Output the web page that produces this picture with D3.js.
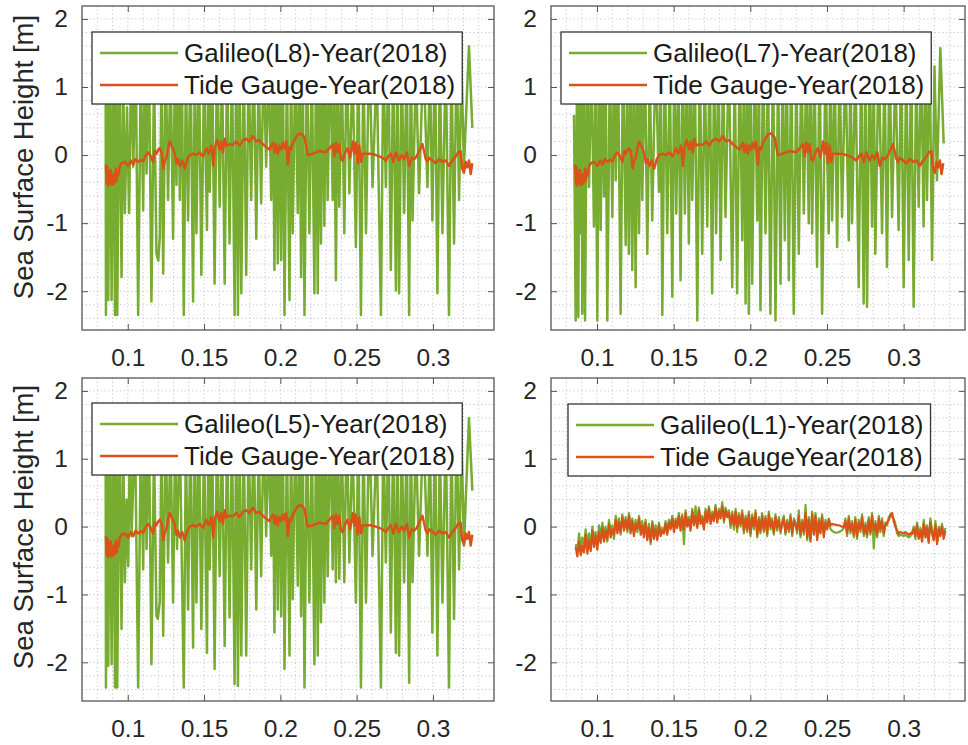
<!DOCTYPE html>
<html>
<head>
<meta charset="utf-8">
<script src="https://cdn.jsdelivr.net/npm/d3@7"></script>
<style>
  body { margin: 0; background: #fff; }
  svg { display: block; font-family: "Liberation Sans", Arial, sans-serif; }
</style>
</head>
<body>
<svg id="chart" width="968" height="745"></svg>
<script>
// ---- DATA ---- //

// Tide gauge record, shared by the L8 / L7 / L5 panels: [time, SSH]
const tideGauge = [
  [0.0857,-0.14],[0.0862,-0.42],[0.0867,-0.18],[0.0872,-0.45],[0.0877,-0.25],[0.0883,-0.40],[0.0889,-0.22],[0.0894,-0.44],
  [0.0900,-0.30],[0.0905,-0.43],[0.0911,-0.28],[0.0916,-0.40],[0.0922,-0.20],[0.0927,-0.38],[0.0933,-0.24],[0.0938,-0.30],
  [0.0948,-0.16],[0.0960,-0.12],[0.0981,-0.10],[0.1003,-0.16],[0.1020,-0.08],[0.1036,-0.14],[0.1050,-0.06],[0.1068,-0.10],
  [0.1085,-0.07],[0.1101,-0.09],[0.1118,0.00],[0.1134,0.04],[0.1150,-0.02],[0.1166,-0.10],[0.1177,0.06],[0.1188,0.02],
  [0.1200,0.08],[0.1210,0.10],[0.1222,0.04],[0.1232,-0.20],[0.1243,-0.08],[0.1253,-0.04],[0.1265,0.12],[0.1275,0.20],
  [0.1286,0.14],[0.1297,0.10],[0.1308,0.02],[0.1319,-0.12],[0.1330,-0.06],[0.1341,-0.16],[0.1357,-0.08],[0.1373,-0.20],
  [0.1390,-0.06],[0.1406,0.00],[0.1428,0.02],[0.1450,0.00],[0.1471,0.04],[0.1493,-0.02],[0.1515,0.10],[0.1530,0.02],
  [0.1548,0.14],[0.1560,-0.16],[0.1569,0.10],[0.1585,0.22],[0.1602,0.08],[0.1613,0.20],[0.1624,0.04],[0.1635,0.24],
  [0.1646,0.14],[0.1668,0.16],[0.1689,0.15],[0.1711,0.20],[0.1733,0.14],[0.1755,0.22],[0.1776,0.24],[0.1798,0.20],
  [0.1820,0.28],[0.1842,0.20],[0.1863,0.22],[0.1885,0.16],[0.1907,0.12],[0.1929,0.08],[0.1940,0.14],[0.1951,0.18],
  [0.1962,0.04],[0.1972,0.16],[0.1983,0.02],[0.1994,0.14],[0.2005,0.08],[0.2016,0.18],[0.2027,0.10],[0.2038,0.20],
  [0.2049,-0.14],[0.2060,0.12],[0.2070,0.08],[0.2081,0.18],[0.2098,0.24],[0.2114,0.30],[0.2136,0.32],[0.2158,0.26],
  [0.2179,0.00],[0.2212,0.02],[0.2256,0.06],[0.2299,0.04],[0.2321,0.10],[0.2343,0.16],[0.2354,-0.02],[0.2364,0.18],
  [0.2375,0.04],[0.2386,0.16],[0.2397,-0.06],[0.2408,-0.08],[0.2425,0.04],[0.2441,0.10],[0.2457,-0.04],[0.2474,0.20],
  [0.2484,0.02],[0.2495,0.18],[0.2506,-0.12],[0.2517,0.14],[0.2528,-0.10],[0.2539,0.02],[0.2561,0.02],[0.2593,0.02],
  [0.2626,0.00],[0.2648,-0.02],[0.2670,-0.04],[0.2691,-0.08],[0.2708,-0.02],[0.2724,0.02],[0.2740,-0.10],[0.2757,0.04],
  [0.2778,-0.08],[0.2795,0.00],[0.2811,-0.06],[0.2828,0.04],[0.2844,-0.16],[0.2861,-0.04],[0.2877,-0.06],[0.2893,-0.02],
  [0.2909,0.06],[0.2931,0.16],[0.2953,-0.06],[0.2964,-0.10],[0.2975,-0.04],[0.2997,-0.08],[0.3018,-0.12],[0.3040,-0.06],
  [0.3062,-0.10],[0.3084,-0.08],[0.3105,-0.16],[0.3127,-0.08],[0.3149,-0.02],[0.3165,0.04],[0.3181,0.06],[0.3192,-0.20],
  [0.3203,-0.26],[0.3214,-0.10],[0.3225,-0.18],[0.3236,-0.08],[0.3247,-0.28],[0.3258,-0.12]
];

// Galileo L8 (top left)
const galileoL8 = [
  [0.0855,1.2],[0.0857,-2.35],[0.0865,1.5],[0.0872,-2.13],[0.0883,1.4],[0.0894,-2.13],[0.0905,1.6],[0.0916,-2.35],
  [0.0924,1.3],[0.0931,-2.35],[0.0945,1.5],[0.0959,-1.79],[0.0970,1.2],[0.0981,-0.85],[0.0995,0.7],[0.1009,-0.85],
  [0.1022,1.4],[0.1036,-0.17],[0.1052,1.5],[0.1068,-2.35],[0.1085,1.3],[0.1101,-0.81],[0.1112,1.6],[0.1123,-0.27],
  [0.1139,1.4],[0.1155,-2.15],[0.1172,1.2],[0.1188,-1.45],[0.1200,-1.55],[0.1210,-1.2],[0.1221,1.3],[0.1232,-1.74],
  [0.1248,1.5],[0.1264,-0.66],[0.1280,1.4],[0.1297,-1.23],[0.1308,1.2],[0.1319,-0.44],[0.1330,1.5],[0.1341,-0.66],
  [0.1354,1.6],[0.1367,-2.35],[0.1381,1.3],[0.1395,-0.96],[0.1411,1.5],[0.1428,-2.15],[0.1439,1.4],[0.1450,-1.15],
  [0.1466,1.6],[0.1482,-1.76],[0.1500,1.3],[0.1519,-1.10],[0.1528,1.5],[0.1537,-0.54],[0.1553,1.4],[0.1569,-1.89],
  [0.1585,1.6],[0.1602,-0.76],[0.1618,1.3],[0.1635,-1.89],[0.1651,1.5],[0.1667,-1.30],[0.1683,1.4],[0.1700,-2.35],
  [0.1711,1.6],[0.1722,-2.35],[0.1733,1.3],[0.1744,-2.03],[0.1760,1.5],[0.1776,-1.76],[0.1792,1.4],[0.1809,-0.66],
  [0.1825,1.6],[0.1842,-1.23],[0.1858,1.3],[0.1874,-0.71],[0.1890,1.5],[0.1907,-0.17],[0.1923,1.4],[0.1940,-0.66],
  [0.1950,1.6],[0.1961,-1.69],[0.1972,1.5],[0.1983,-1.59],[0.1994,1.4],[0.2005,-1.54],[0.2016,1.6],[0.2027,-2.35],
  [0.2043,1.3],[0.2060,-2.13],[0.2070,1.5],[0.2081,-1.15],[0.2098,1.4],[0.2114,-0.85],[0.2125,1.6],[0.2136,-1.79],
  [0.2147,1.3],[0.2158,-2.35],[0.2174,1.5],[0.2190,-1.15],[0.2206,1.4],[0.2223,-2.03],[0.2234,1.6],[0.2245,-2.03],
  [0.2255,1.3],[0.2266,-1.30],[0.2277,1.5],[0.2288,-1.04],[0.2299,1.4],[0.2310,-0.66],[0.2326,1.6],[0.2343,-0.66],
  [0.2353,1.3],[0.2364,-1.84],[0.2375,1.5],[0.2386,-0.76],[0.2402,1.4],[0.2419,-1.15],[0.2435,1.6],[0.2452,-0.56],
  [0.2473,1.3],[0.2495,-1.35],[0.2511,1.5],[0.2528,-2.35],[0.2544,1.4],[0.2561,-1.15],[0.2582,1.6],[0.2604,-0.47],
  [0.2631,1.3],[0.2659,-2.35],[0.2675,1.5],[0.2691,-0.47],[0.2708,1.4],[0.2724,-1.69],[0.2740,1.6],[0.2757,-1.99],
  [0.2767,1.3],[0.2778,-2.03],[0.2795,1.5],[0.2811,-0.85],[0.2828,1.4],[0.2844,-2.35],[0.2855,1.6],[0.2866,-0.96],
  [0.2888,1.3],[0.2909,-0.56],[0.2937,1.5],[0.2964,-0.47],[0.2980,1.4],[0.2996,-0.96],[0.3013,1.6],[0.3029,-2.03],
  [0.3045,1.3],[0.3062,-1.15],[0.3084,1.5],[0.3105,-2.35],[0.3121,1.4],[0.3138,-1.30],[0.3155,1.6],[0.3171,-0.66],
  [0.3187,1.3],[0.3203,-0.17],[0.3236,1.6],[0.3258,0.4]
];

// Galileo L7 (top right)
const galileoL7 = [
  [0.0850,0.59],[0.0861,-2.43],[0.0870,1.4],[0.0878,-2.38],[0.0886,1.2],[0.0894,-1.15],[0.0899,1.5],[0.0904,-2.33],
  [0.0913,1.3],[0.0922,-2.43],[0.0935,1.6],[0.0948,-0.47],[0.0964,1.4],[0.0980,-1.05],[0.0991,1.2],[0.1002,-2.43],
  [0.1013,1.5],[0.1024,-1.10],[0.1035,1.3],[0.1046,-0.61],[0.1056,1.6],[0.1067,-2.43],[0.1084,1.4],[0.1100,-0.91],
  [0.1111,1.5],[0.1122,-0.37],[0.1138,1.3],[0.1154,-2.33],[0.1170,1.6],[0.1187,-1.32],[0.1197,1.2],[0.1208,-1.45],
  [0.1219,1.4],[0.1230,-1.69],[0.1241,1.3],[0.1252,-1.94],[0.1263,1.5],[0.1274,-1.15],[0.1285,1.4],[0.1295,-0.66],
  [0.1312,1.6],[0.1328,-1.45],[0.1344,1.3],[0.1360,-0.96],[0.1382,1.5],[0.1404,-0.54],[0.1415,1.4],[0.1426,-2.35],
  [0.1442,1.6],[0.1458,-1.15],[0.1475,1.3],[0.1491,-2.08],[0.1504,1.5],[0.1517,-0.86],[0.1531,1.4],[0.1545,-1.84],
  [0.1559,1.6],[0.1573,-0.86],[0.1586,1.3],[0.1599,-1.30],[0.1610,1.5],[0.1621,-0.66],[0.1638,1.4],[0.1654,-2.43],
  [0.1670,1.6],[0.1686,-1.45],[0.1703,1.3],[0.1719,-1.05],[0.1735,1.5],[0.1751,-2.03],[0.1764,1.4],[0.1777,-1.15],
  [0.1792,1.6],[0.1806,-1.54],[0.1822,1.3],[0.1838,-0.91],[0.1860,1.5],[0.1882,-1.94],[0.1898,1.4],[0.1914,-2.03],
  [0.1931,1.6],[0.1947,-1.25],[0.1958,1.3],[0.1969,-2.18],[0.1980,1.5],[0.1990,-2.33],[0.2001,1.4],[0.2012,-1.89],
  [0.2029,1.6],[0.2045,-0.96],[0.2056,1.3],[0.2066,-2.28],[0.2083,1.5],[0.2099,-1.15],[0.2115,1.4],[0.2131,-2.33],
  [0.2148,1.6],[0.2164,-2.43],[0.2181,1.3],[0.2197,-1.89],[0.2211,1.5],[0.2225,-1.25],[0.2238,1.4],[0.2251,-1.84],
  [0.2267,1.6],[0.2283,-2.33],[0.2300,1.3],[0.2316,-1.45],[0.2333,1.5],[0.2349,-0.86],[0.2365,1.4],[0.2381,-1.00],
  [0.2392,1.6],[0.2403,-1.15],[0.2419,1.3],[0.2435,-1.64],[0.2452,1.5],[0.2468,-2.33],[0.2490,1.4],[0.2511,-1.15],
  [0.2522,1.6],[0.2533,-0.96],[0.2550,1.3],[0.2566,-1.35],[0.2582,1.5],[0.2598,-0.91],[0.2620,1.4],[0.2642,-1.25],
  [0.2653,1.6],[0.2663,-1.00],[0.2685,1.3],[0.2707,-1.94],[0.2723,1.5],[0.2739,-2.18],[0.2750,1.4],[0.2761,-2.23],
  [0.2778,1.6],[0.2794,-1.05],[0.2805,1.3],[0.2815,-1.45],[0.2837,1.5],[0.2859,-1.15],[0.2875,1.4],[0.2891,-1.64],
  [0.2908,1.6],[0.2924,-0.91],[0.2946,1.3],[0.2967,-1.10],[0.2984,1.5],[0.3000,-1.94],[0.3017,1.4],[0.3033,-1.54],
  [0.3049,1.6],[0.3065,-2.23],[0.3082,1.3],[0.3098,-0.76],[0.3114,1.5],[0.3130,-1.05],[0.3141,1.4],[0.3152,-0.66],
  [0.3169,1.6],[0.3185,-1.54],[0.3201,1.3],[0.3217,-0.37],[0.3239,1.57],[0.3261,0.17]
];

// Galileo L5 (bottom left)
const galileoL5 = [
  [0.0855,1.2],[0.0857,-2.37],[0.0865,1.5],[0.0872,-2.05],[0.0883,1.4],[0.0894,-2.03],[0.0905,1.6],[0.0916,-2.37],
  [0.0924,1.3],[0.0931,-2.37],[0.0945,1.5],[0.0959,-1.51],[0.0970,1.2],[0.0981,-0.82],[0.0992,0.4],[0.1003,-0.58],
  [0.1014,1.4],[0.1025,-0.14],[0.1047,1.5],[0.1068,-2.37],[0.1085,1.3],[0.1101,-0.63],[0.1112,1.6],[0.1123,-0.33],
  [0.1139,1.4],[0.1155,-2.03],[0.1172,1.2],[0.1188,-1.32],[0.1197,-1.36],[0.1210,-1.1],[0.1221,1.3],[0.1232,-1.61],
  [0.1248,1.5],[0.1264,-0.53],[0.1280,1.4],[0.1297,-1.12],[0.1310,1.2],[0.1323,-0.33],[0.1340,1.5],[0.1367,-2.37],
  [0.1381,1.3],[0.1395,-1.22],[0.1411,1.5],[0.1428,-1.78],[0.1439,1.4],[0.1450,-1.12],[0.1466,1.6],[0.1482,-1.51],
  [0.1500,1.3],[0.1519,-1.86],[0.1528,1.5],[0.1537,-0.63],[0.1553,1.4],[0.1569,-2.10],[0.1585,1.6],[0.1602,-0.73],
  [0.1618,1.3],[0.1635,-1.76],[0.1651,1.5],[0.1667,-1.34],[0.1683,1.4],[0.1700,-2.32],[0.1711,1.6],[0.1722,-2.35],
  [0.1733,1.3],[0.1744,-1.90],[0.1760,1.5],[0.1776,-1.90],[0.1792,1.4],[0.1809,-0.63],[0.1825,1.6],[0.1842,-1.22],
  [0.1858,1.3],[0.1874,-0.73],[0.1890,1.5],[0.1907,-0.14],[0.1923,1.4],[0.1940,-0.43],[0.1950,1.6],[0.1961,-1.56],
  [0.1972,1.5],[0.1983,-1.22],[0.1994,1.4],[0.2005,-1.32],[0.2016,1.6],[0.2027,-2.10],[0.2043,1.3],[0.2060,-1.90],
  [0.2070,1.5],[0.2081,-1.07],[0.2098,1.4],[0.2114,-0.87],[0.2125,1.6],[0.2136,-1.32],[0.2147,1.3],[0.2158,-2.37],
  [0.2174,1.5],[0.2190,-1.12],[0.2206,1.4],[0.2223,-2.03],[0.2234,1.6],[0.2245,-1.90],[0.2255,1.3],[0.2266,-1.41],
  [0.2277,1.5],[0.2288,-1.12],[0.2299,1.4],[0.2310,-0.73],[0.2326,1.6],[0.2343,-0.63],[0.2353,1.3],[0.2364,-0.82],
  [0.2375,1.5],[0.2386,-0.77],[0.2402,1.4],[0.2419,-0.82],[0.2435,1.6],[0.2452,-0.53],[0.2473,1.3],[0.2495,-1.12],
  [0.2511,1.5],[0.2528,-2.37],[0.2544,1.4],[0.2561,-1.12],[0.2582,1.6],[0.2604,-0.43],[0.2631,1.3],[0.2659,-2.37],
  [0.2675,1.5],[0.2691,-0.53],[0.2708,1.4],[0.2724,-1.56],[0.2740,1.6],[0.2757,-1.86],[0.2767,1.3],[0.2778,-1.90],
  [0.2795,1.5],[0.2811,-0.82],[0.2828,1.4],[0.2844,-2.30],[0.2855,1.6],[0.2866,-0.82],[0.2888,1.3],[0.2909,-0.43],
  [0.2937,1.5],[0.2964,-0.43],[0.2980,1.4],[0.2996,-1.56],[0.3013,1.6],[0.3029,-1.90],[0.3045,1.3],[0.3062,-1.12],
  [0.3084,1.5],[0.3105,-2.37],[0.3121,1.4],[0.3138,-1.36],[0.3155,1.6],[0.3171,-0.63],[0.3187,1.3],[0.3203,-0.28],
  [0.3236,1.60],[0.3258,0.53]
];

// L1 panel (bottom right): common time base, then Galileo L1 and tide gauge
const l1Time = [
  0.0861,0.0872,0.0883,0.0894,0.0904,0.0915,0.0926,0.0937,0.0948,0.0959,0.0970,0.0980,0.0991,0.1002,0.1013,0.1024,
  0.1035,0.1046,0.1056,0.1067,0.1078,0.1089,0.1100,0.1111,0.1122,0.1133,0.1143,0.1154,0.1165,0.1176,0.1187,0.1198,
  0.1209,0.1219,0.1230,0.1241,0.1252,0.1263,0.1274,0.1285,0.1295,0.1306,0.1317,0.1328,0.1339,0.1350,0.1361,0.1371,
  0.1382,0.1393,0.1404,0.1415,0.1426,0.1437,0.1447,0.1458,0.1469,0.1480,0.1491,0.1502,0.1513,0.1523,0.1534,0.1545,
  0.1556,0.1567,0.1578,0.1589,0.1599,0.1610,0.1621,0.1632,0.1643,0.1654,0.1665,0.1675,0.1686,0.1697,0.1708,0.1719,
  0.1730,0.1741,0.1752,0.1762,0.1773,0.1784,0.1795,0.1806,0.1817,0.1828,0.1838,0.1849,0.1860,0.1871,0.1882,0.1893,
  0.1904,0.1914,0.1925,0.1936,0.1947,0.1958,0.1969,0.1980,0.1990,0.2001,0.2012,0.2023,0.2034,0.2045,0.2056,0.2066,
  0.2077,0.2088,0.2099,0.2110,0.2121,0.2132,0.2142,0.2153,0.2164,0.2175,0.2186,0.2197,0.2208,0.2218,0.2229,0.2240,
  0.2251,0.2262,0.2273,0.2284,0.2295,0.2305,0.2316,0.2327,0.2338,0.2349,0.2360,0.2371,0.2381,0.2392,0.2403,0.2414,
  0.2425,0.2436,0.2447,0.2457,0.2468,0.2479,0.2490,0.2501,0.2512,0.2523,0.2533,0.2544,0.2555,0.2566,0.2577,0.2588,
  0.2599,0.2609,0.2620,0.2631,0.2642,0.2653,0.2664,0.2675,0.2685,0.2696,0.2707,0.2718,0.2729,0.2740,0.2751,0.2761,
  0.2772,0.2783,0.2794,0.2805,0.2816,0.2827,0.2838,0.2848,0.2859,0.2870,0.2881,0.2892,0.2903,0.2914,0.2924,0.2935,
  0.2946,0.2957,0.2968,0.2979,0.2990,0.3000,0.3011,0.3022,0.3033,0.3044,0.3055,0.3066,0.3076,0.3087,0.3098,0.3109,
  0.3120,0.3131,0.3142,0.3152,0.3163,0.3174,0.3185,0.3196,0.3207,0.3218,0.3229,0.3239,0.3250,0.3261,0.3272
];
const galileoL1 = [
  -0.26,-0.36,-0.10,-0.30,-0.16,-0.28,-0.04,-0.26,-0.10,-0.30,0.00,-0.20,-0.08,-0.28,0.02,-0.16,
  0.06,-0.14,0.00,-0.22,0.10,-0.08,0.02,-0.18,0.16,-0.04,0.12,-0.12,0.18,-0.02,0.14,-0.08,
  0.20,-0.04,0.12,-0.10,0.10,-0.08,0.16,-0.06,0.08,-0.12,0.10,-0.16,0.04,-0.26,0.08,-0.14,
  0.02,-0.16,0.06,-0.10,-0.02,-0.06,0.08,-0.08,0.10,0.00,0.16,-0.04,0.12,0.02,0.20,-0.02,
  0.18,-0.26,0.24,0.04,0.14,-0.02,0.26,0.06,0.30,0.02,0.28,0.08,0.16,0.00,0.26,0.10,
  0.30,0.08,0.22,0.12,0.32,0.10,0.26,0.16,0.36,0.06,0.28,0.18,0.24,-0.02,0.22,-0.04,
  0.26,-0.08,0.20,0.00,0.24,-0.10,0.16,-0.08,0.22,-0.14,0.18,-0.04,0.24,-0.16,0.14,-0.10,
  0.20,-0.08,0.16,-0.14,0.22,-0.04,0.12,-0.12,0.18,-0.06,0.14,-0.10,0.08,0.16,-0.12,0.10,
  -0.08,0.18,-0.14,0.12,0.06,-0.10,0.24,-0.16,0.10,-0.12,0.32,-0.20,0.14,-0.18,0.22,-0.08,
  0.20,-0.16,0.12,-0.06,0.18,-0.12,0.10,-0.02,0.12,-0.04,-0.06,-0.08,-0.09,-0.09,-0.08,-0.07,
  -0.05,-0.02,0.12,-0.14,0.16,-0.10,0.08,-0.16,0.14,-0.18,0.10,-0.08,0.18,-0.14,0.06,-0.16,
  0.14,-0.12,0.20,-0.32,0.08,-0.16,0.16,-0.08,0.12,-0.14,0.06,0.02,0.14,0.14,0.16,0.12,
  0.04,-0.10,-0.14,-0.12,-0.13,-0.14,-0.12,-0.14,-0.16,-0.14,-0.08,0.00,-0.18,0.06,-0.14,-0.02,
  -0.18,0.10,-0.12,0.02,-0.20,0.12,-0.06,-0.16,0.08,-0.22,0.00,-0.10,0.04,-0.14,-0.02
];
const tideL1 = [
  -0.30,-0.44,-0.22,-0.42,-0.28,-0.38,-0.12,-0.40,-0.20,-0.36,-0.06,-0.30,-0.14,-0.34,-0.08,-0.24,
  -0.02,-0.22,-0.06,-0.18,0.04,-0.16,-0.04,-0.12,0.10,-0.10,0.06,-0.08,0.14,-0.06,0.10,-0.04,
  0.16,-0.10,0.08,-0.14,0.04,-0.04,0.12,-0.12,0.02,-0.16,0.06,-0.20,-0.02,-0.22,0.04,-0.18,
  -0.04,-0.20,0.02,-0.14,-0.06,-0.10,0.04,-0.12,0.06,-0.04,0.12,-0.08,0.08,-0.02,0.16,-0.06,
  0.14,-0.04,0.20,0.00,0.10,-0.06,0.22,0.02,0.16,-0.02,0.24,0.04,0.12,-0.04,0.22,0.06,
  0.26,0.04,0.18,0.08,0.28,0.06,0.22,0.12,0.30,0.10,0.24,0.14,0.20,0.04,0.18,0.02,
  0.22,-0.02,0.16,0.04,0.20,-0.06,0.12,-0.04,0.18,-0.10,0.14,0.00,0.20,-0.12,0.10,-0.06,
  0.16,-0.04,0.12,-0.10,0.18,0.00,0.08,-0.08,0.14,-0.02,0.10,-0.06,0.04,0.12,-0.08,0.06,
  -0.04,0.14,-0.10,0.08,0.02,-0.06,0.16,-0.12,0.06,-0.08,0.20,-0.16,0.10,-0.22,0.18,-0.12,
  0.16,-0.20,0.08,-0.10,0.14,-0.16,0.06,-0.04,0.10,0.02,0.04,0.03,0.03,0.02,0.02,0.01,
  0.00,-0.01,0.08,-0.10,0.12,-0.06,0.04,-0.12,0.10,-0.14,0.06,-0.04,0.14,-0.10,0.02,-0.12,
  0.10,-0.08,0.16,-0.06,0.04,-0.12,0.12,-0.04,0.08,-0.10,0.02,0.06,0.10,0.18,0.20,0.08,
  0.00,-0.06,-0.10,-0.08,-0.09,-0.10,-0.08,-0.10,-0.12,-0.10,-0.11,-0.04,-0.14,0.02,-0.18,-0.06,
  -0.22,0.04,-0.16,-0.02,-0.24,0.06,-0.10,-0.20,0.02,-0.26,-0.04,-0.14,0.00,-0.18,-0.06
];

const xTicks = [0.1, 0.15, 0.2, 0.25, 0.3];
const yTicks = [-2, -1, 0, 1, 2];

// ---- LAYOUT ---- //

const svg = d3.select("#chart");
const green = "#77AC30";
const orange = "#D95319";

const xDomain = [0.07, 0.34];
const yDomain = [-2.57, 2.19];

const panels = [
  { box: { L: 82, T: 6, R: 494, B: 330 }, yLabelY: 157, lw: 2.5,
    galileo: galileoL8, tide: tideGauge,
    labels: ["Galileo(L8)-Year(2018)", "Tide Gauge-Year(2018)"], legend: { x: 92, y: 32 } },
  { box: { L: 551, T: 6, R: 965, B: 330 }, lw: 2.5,
    galileo: galileoL7, tide: tideGauge,
    labels: ["Galileo(L7)-Year(2018)", "Tide Gauge-Year(2018)"], legend: { x: 561, y: 32 } },
  { box: { L: 82, T: 378, R: 494, B: 701 }, yLabelY: 527, lw: 2.5,
    galileo: galileoL5, tide: tideGauge,
    labels: ["Galileo(L5)-Year(2018)", "Tide Gauge-Year(2018)"], legend: { x: 92, y: 403 } },
  { box: { L: 551, T: 378, R: 965, B: 701 }, lw: 2.2,
    galileo: l1Time.map((t, i) => [t, galileoL1[i]]), tide: l1Time.map((t, i) => [t, tideL1[i]]),
    labels: ["Galileo(L1)-Year(2018)", "Tide GaugeYear(2018)"], legend: { x: 568, y: 404 } },
];

function drawPanel(p, idx) {
    const b = p.box;
    const xScale = d3.scaleLinear().domain(xDomain).range([b.L, b.R]);
    const yScale = d3.scaleLinear().domain(yDomain).range([b.B, b.T]);
    const g = svg.append("g");

    // clip
    const clipId = "clip" + idx;
    g.append("clipPath").attr("id", clipId)
        .append("rect")
        .attr("x", b.L).attr("y", b.T)
        .attr("width", b.R - b.L).attr("height", b.B - b.T);

    // --- grid (minor + major, dotted) --- //
    const xGrid = d3.range(0.08, 0.3401, 0.01).filter(v => v < xDomain[1] - 0.001);
    const yGrid = d3.range(-2.4, 2.19, 0.2);
    g.append("g").selectAll("line.gx").data(xGrid).enter()
        .append("line")
        .attr("x1", d => xScale(d)).attr("x2", d => xScale(d))
        .attr("y1", b.T).attr("y2", b.B)
        .attr("stroke", "#b8b8b8").attr("stroke-width", 0.8)
        .attr("stroke-dasharray", "1.2,2.6");
    g.append("g").selectAll("line.gy").data(yGrid).enter()
        .append("line")
        .attr("y1", d => yScale(d)).attr("y2", d => yScale(d))
        .attr("x1", b.L).attr("x2", b.R)
        .attr("stroke", "#b8b8b8").attr("stroke-width", 0.8)
        .attr("stroke-dasharray", "1.2,2.6");

    // --- lines --- //
    const line = d3.line()
        .x(d => xScale(d[0]))
        .y(d => yScale(d[1]));

    const plot = g.append("g").attr("clip-path", `url(#${clipId})`);
    plot.append("path")
        .attr("d", line(p.galileo))
        .attr("fill", "none")
        .attr("stroke", green)
        .attr("stroke-width", p.lw)
        .attr("stroke-linejoin", "round");
    plot.append("path")
        .attr("d", line(p.tide))
        .attr("fill", "none")
        .attr("stroke", orange)
        .attr("stroke-width", p.lw)
        .attr("stroke-linejoin", "round");

    // --- axes (ticks inside, box on) --- //
    const axisColor = "#555";
    const tl = 6;
    const xAxisB = d3.axisBottom(xScale).tickValues(xTicks).tickSize(-tl).tickPadding(14).tickFormat(d => String(d));
    const xAxisT = d3.axisTop(xScale).tickValues(xTicks).tickSize(-tl).tickFormat("");
    const yAxisL = d3.axisLeft(yScale).tickValues(yTicks).tickSize(-tl).tickPadding(14).tickFormat(d => String(d)); // plain hyphen like matlab
    const yAxisR = d3.axisRight(yScale).tickValues(yTicks).tickSize(-tl).tickFormat("");

    const axes = [
        g.append("g").attr("transform", `translate(0,${b.B})`).call(xAxisB),
        g.append("g").attr("transform", `translate(0,${b.T})`).call(xAxisT),
        g.append("g").attr("transform", `translate(${b.L},0)`).call(yAxisL),
        g.append("g").attr("transform", `translate(${b.R},0)`).call(yAxisR),
    ];
    axes.forEach(a => {
        a.select(".domain").remove();
        a.selectAll(".tick line").attr("stroke", axisColor).attr("stroke-width", 1);
        a.selectAll(".tick text")
            .attr("fill", "#262626")
            .style("font-family", "'Liberation Sans', Arial, sans-serif")
            .style("font-size", "24.5px");
    });
    axes[0].selectAll(".tick text").attr("dy", "0.9em");

    g.append("rect")
        .attr("x", b.L).attr("y", b.T)
        .attr("width", b.R - b.L).attr("height", b.B - b.T)
        .attr("fill", "none").attr("stroke", axisColor).attr("stroke-width", 1.3);

    // --- y label --- //
    if (p.yLabelY) {
        svg.append("text")
            .attr("transform", `translate(33,${p.yLabelY}) rotate(-90)`)
            .attr("text-anchor", "middle")
            .attr("fill", "#262626")
            .style("font-size", "27.5px")
            .text("Sea Surface Height [m]");
    }

    // --- legend --- //
    const lg = g.append("g").attr("transform", `translate(${p.legend.x},${p.legend.y})`);
    const rows = [21, 53];
    const lbox = lg.append("rect")
        .attr("x", 0).attr("y", 0).attr("height", 72)
        .attr("fill", "#fff").attr("stroke", "#333").attr("stroke-width", 1.3);
    let maxW = 0;
    [green, orange].forEach((c, i) => {
        lg.append("line")
            .attr("x1", 8).attr("x2", 86)
            .attr("y1", rows[i]).attr("y2", rows[i])
            .attr("stroke", c).attr("stroke-width", 2.4);
        const t = lg.append("text")
            .attr("x", 92).attr("y", rows[i]).attr("dy", "0.36em")
            .attr("fill", "#1a1a1a")
            .style("font-size", "26px")
            .text(p.labels[i]);
        maxW = Math.max(maxW, t.node().getComputedTextLength());
    });
    lbox.attr("width", 92 + maxW + 7);
}

panels.forEach(drawPanel);
</script>
</body>
</html>
